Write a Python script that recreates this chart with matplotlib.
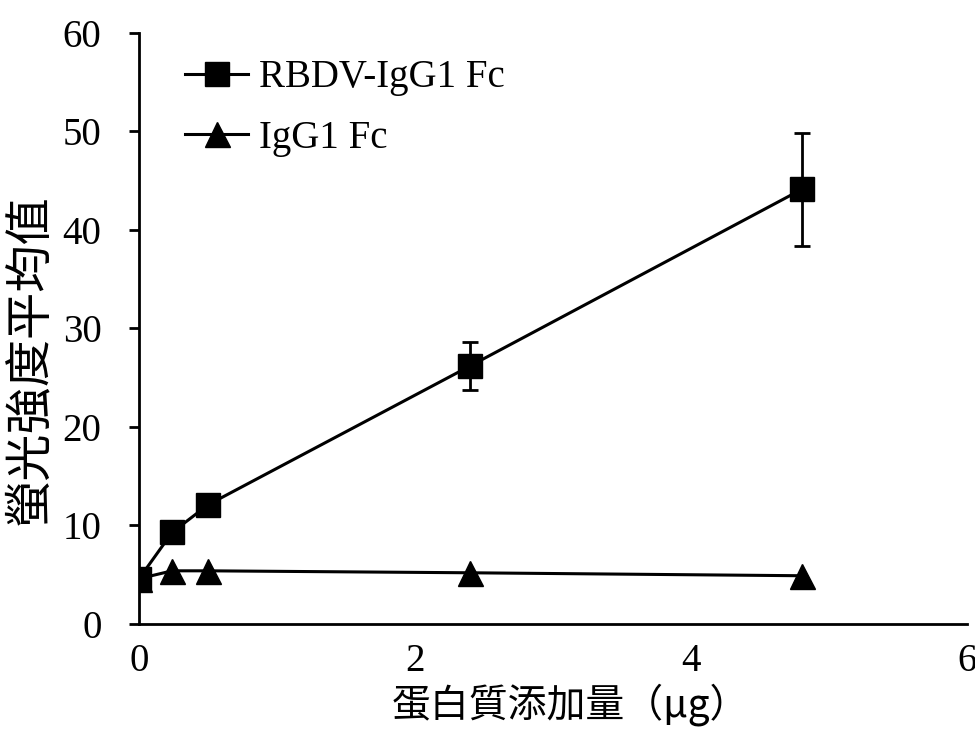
import matplotlib
matplotlib.use("Agg")
import matplotlib.pyplot as plt

# protein added (ug)
dose = [0, 0.24, 0.5, 2.4, 4.8]

# mean fluorescence intensity
rbdv_fc = [4.6, 9.3, 12.1, 26.2, 44.1]
rbdv_err = [0, 0, 0, 2.4, 5.7]
igg1_fc = [4.6, 5.4, 5.4, 5.2, 4.9]

series_labels = ["RBDV-IgG1 Fc", "IgG1 Fc"]
x_ticks = [0, 2, 4, 6]
y_ticks = [0, 10, 20, 30, 40, 50, 60]
x_label = "蛋白質添加量（μg）"
y_label = "螢光強度平均值"

serif = "Liberation Serif"
cjk = ["Noto Sans CJK TC", "DejaVu Sans"]

fig = plt.figure(figsize=(9.75, 7.29), dpi=100)
ax = fig.add_axes([0.1426, 0.144, 0.8494, 0.811])

ax.errorbar(dose, rbdv_fc, yerr=rbdv_err, fmt="none", ecolor="black",
            capsize=6, elinewidth=2, capthick=2, zorder=3)
ax.plot(dose, rbdv_fc, color="black", lw=2.2, marker="s", ms=17,
        label=series_labels[0], zorder=4)
ax.plot(dose, igg1_fc, color="black", lw=2.2, marker="^", ms=18,
        label=series_labels[1], zorder=2)

ax.set_xlim(0, 6)
ax.set_ylim(0, 60)
ax.set_xticks(x_ticks)
ax.set_yticks(y_ticks)
for s in ["top", "right"]:
    ax.spines[s].set_visible(False)
for s in ["left", "bottom"]:
    ax.spines[s].set_linewidth(2)
ax.tick_params(axis="y", direction="out", length=7, width=2, pad=20)
ax.tick_params(axis="x", length=0, pad=14)
for lbl in ax.get_xticklabels() + ax.get_yticklabels():
    lbl.set_fontfamily(serif)
    lbl.set_fontsize(28)

fig.text(0.031, 0.507, y_label, rotation=90, ha="center", va="center",
         family=cjk, fontsize=34)
fig.text(0.585, 0.034, x_label, ha="center", va="center",
         family=cjk, fontsize=28)

ax.legend(loc="upper left", bbox_to_anchor=(0.056, 0.955), frameon=False,
          borderpad=0, borderaxespad=0, handlelength=1.6, handletextpad=0.3,
          labelspacing=0.6, prop={"family": serif, "size": 28})

fig.savefig("out.png", dpi=100)
